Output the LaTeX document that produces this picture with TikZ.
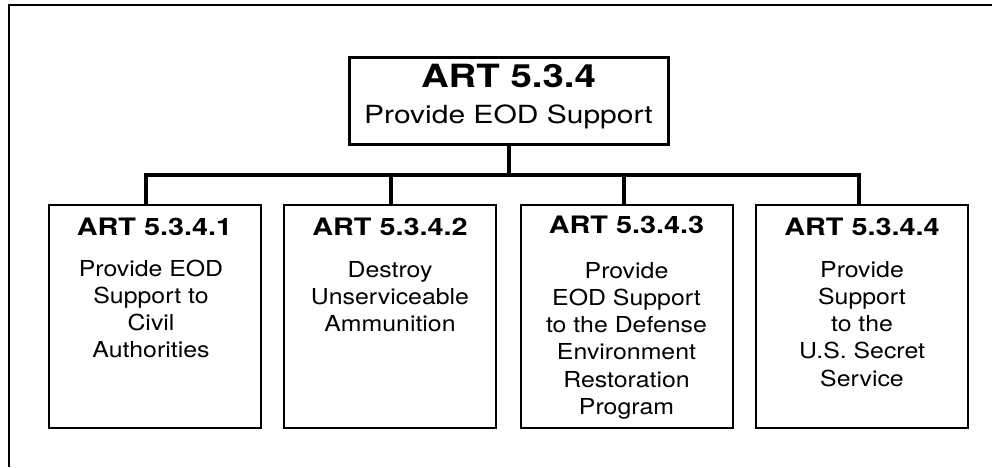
\documentclass[tikz,border=0pt]{standalone}
\usepackage{fontspec}
\setmainfont{TeX Gyre Heros}
\newfontfamily\hfont[FakeStretch=1.2]{TeX Gyre Heros}
\newfontfamily\bfont[FakeStretch=1.13]{TeX Gyre Heros}
\begin{document}
\begin{tikzpicture}[x=1pt,y=-1pt,
  frameline/.style={line width=2.2pt},
  topbox/.style={draw, line width=3pt, minimum width=319pt, minimum height=87pt, inner sep=0pt},
  childbox/.style={draw, line width=2pt, minimum width=212pt, minimum height=223pt, inner sep=0pt},
  conn/.style={line width=4pt, line join=miter},
  ctitle/.style={font=\hfont\bfseries\fontsize{24}{28}\selectfont, anchor=base, inner sep=0pt},
  cbody/.style={font=\bfont\fontsize{22}{27.3}\selectfont, align=center, anchor=base, inner sep=0pt},
  ttitle/.style={font=\hfont\bfseries\fontsize{32}{34}\selectfont, anchor=base, inner sep=0pt},
  tbody/.style={font=\hfont\fontsize{25}{30}\selectfont, anchor=base, inner sep=0pt}]
\useasboundingbox (0,0) rectangle (992,467);
\fill[white] (0,0) rectangle (992,467);
% outer frame
\coordinate (fa) at (9,467);
\coordinate (fb) at (9,5);
\coordinate (fc) at (992,5);
\draw[frameline] (fa) -- (fb) -- (fc);
% top box
\node[topbox] (top) at (508.5,100.5) {};
\node[ttitle] (toptitle) at (508.5,87) {ART 5.3.4};
\node[tbody] (topbody) at (508.5,123) {Provide EOD Support};
% child boxes
\node[childbox] (c1) at (154.5,316.5) {};
\node[childbox] (c2) at (390,316.5) {};
\node[childbox] (c3) at (626.5,316.5) {};
\node[childbox] (c4) at (862,316.5) {};
% texts (base anchor = baseline of the last line)
\node[ctitle] (c1t) at (154.5,235) {ART 5.3.4.1};
\node[ctitle] (c2t) at (390,235) {ART 5.3.4.2};
\node[ctitle] (c3t) at (626.5,233) {ART 5.3.4.3};
\node[ctitle] (c4t) at (862,235) {ART 5.3.4.4};
\node[cbody] (c1b) at (151,357.9) {Provide EOD\\Support to\\Civil\\Authorities};
\node[cbody] (c2b) at (390,331.6) {Destroy\\Unserviceable\\Ammunition};
\node[cbody] (c3b) at (626.5,414.5) {Provide\\EOD Support\\to the Defense\\Environment\\Restoration\\Program};
\node[cbody] (c4b) at (862,386.2) {Provide\\Support\\to the\\U.S. Secret\\Service};
% connectors
\coordinate (b1) at (146,175);
\coordinate (b2) at (391,175);
\coordinate (b3) at (624,175);
\coordinate (b4) at (859,175);
\draw[conn] (top.south) -- (top.south |- b1);
\draw[conn] (c1.north -| b1) -- (b1) -- (b4) -- (c4.north -| b4);
\draw[conn] (b2) -- (c2.north -| b2);
\draw[conn] (b3) -- (c3.north -| b3);
\end{tikzpicture}
\end{document}
